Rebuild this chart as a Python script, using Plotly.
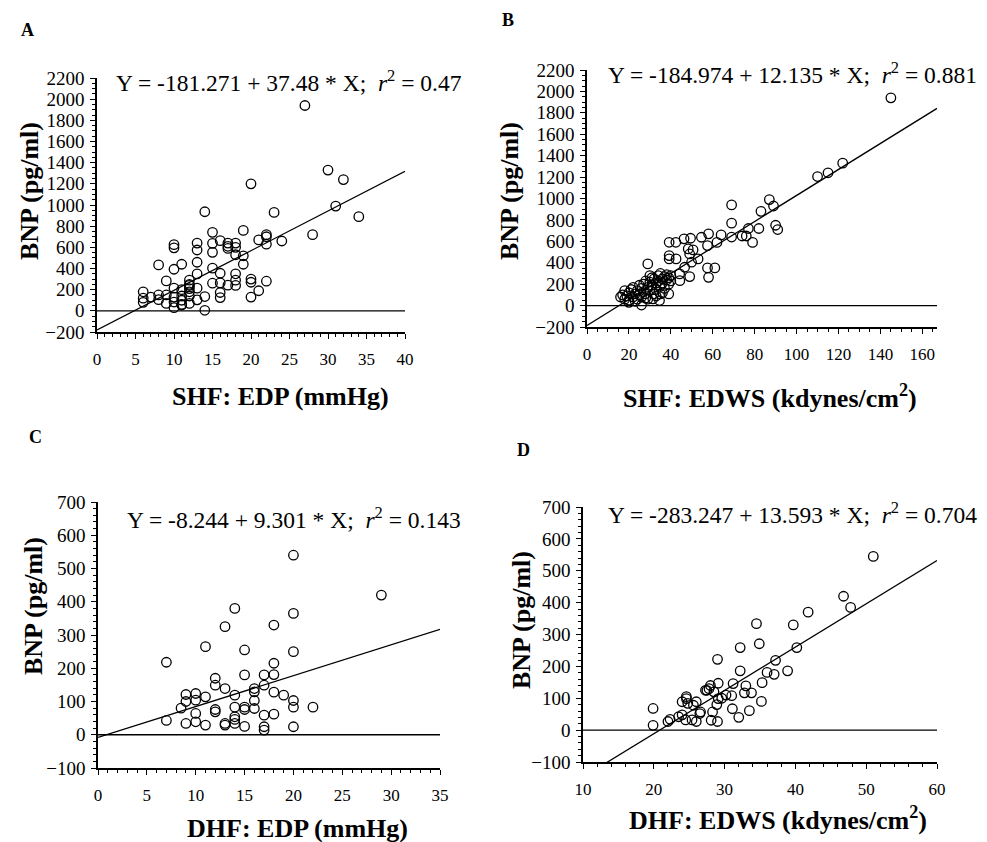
import plotly.graph_objects as go

# ---------------- data ----------------
# Panel A: SHF EDP (mmHg) vs BNP (pg/ml)
a_x = [27, 30, 32, 31, 34, 28, 20, 23, 24, 22, 22, 22, 21, 22, 21, 20, 20, 20,
       19, 19, 19, 18, 18, 18, 18, 18, 17, 17, 17, 16, 16, 16, 16, 16,
       15, 15, 15, 15, 15, 14, 14, 14, 13, 13, 13, 13, 13, 13,
       12, 12, 12, 12, 12, 11, 11, 11, 11, 10, 10, 10, 10, 10, 10,
       9, 9, 9, 8, 8, 8, 7, 6, 6, 6, 10, 11, 12, 11, 12, 17, 18]
a_y = [1940, 1330, 1240, 990, 890, 720, 1200, 930, 660, 720, 630, 700, 670, 280, 190, 130, 300, 270,
       760, 520, 440, 640, 530, 350, 290, 240, 640, 590, 242, 663, 355, 264, 173, 125,
       742, 638, 553, 403, 261, 936, 135, 5, 640, 575, 459, 349, 214, 104,
       290, 250, 210, 140, 70, 440, 200, 140, 55, 625, 595, 393, 214, 83, 30,
       283, 150, 70, 434, 150, 105, 130, 180, 120, 80, 130, 100, 180, 60, 240, 610, 600]

# Panel B: SHF EDWS (kdynes/cm2) vs BNP
b_x = [145, 122, 115, 110, 87, 89, 83, 69, 69, 90, 91, 82, 77, 74, 76, 79, 69, 64, 62,
       58, 57.5, 54.6, 49.4, 46.3, 42.4, 39.2, 48.3, 49, 50.6, 53, 49.9, 42.5, 39.2, 39.2,
       46.6, 44.2, 44.3, 49, 57.5, 61, 58, 29, 39, 35, 31.4, 34.6, 26,
       16, 17, 18, 18, 19, 20, 20, 21, 22, 22, 23, 24, 24, 25, 25, 26, 26, 27, 27,
       28, 28, 29, 29, 30, 30, 31, 31, 32, 32, 33, 33, 34, 34, 35, 35, 36, 36, 37, 37,
       38, 38, 39, 39, 40, 40, 30, 28, 23, 20, 33, 36]
b_y = [1940, 1330, 1240, 1205, 990, 930, 880, 940, 770, 750, 710, 720, 720, 650, 650, 590, 640, 660, 590,
       670, 560, 638, 629, 623, 591, 591, 529, 482, 520, 436, 405, 436, 467, 436,
       358, 296, 233, 271, 352, 352, 264, 389, 109, 109, 62, 47, 5,
       80, 100, 140, 60, 90, 120, 50, 150, 80, 170, 110, 60, 140, 100, 190, 160, 80, 130, 200,
       110, 230, 170, 60, 140, 220, 260, 190, 110, 250, 210, 150, 280, 230, 180, 300, 250, 210, 270, 160,
       240, 290, 260, 200, 280, 230, 280, 70, 40, 30, 90, 120]

# Panel C: DHF EDP (mmHg) vs BNP
c_x = [20, 29, 14, 20, 13, 18, 11, 15, 20, 7, 18, 15, 17, 18, 12, 12, 13, 17, 16, 16,
       14, 18, 19, 20, 20, 22, 9, 10, 10, 11, 8.5, 9, 7, 9, 10, 11, 10, 12, 12,
       13, 13, 14, 14, 14, 15, 15, 15, 16, 16, 17, 17, 17, 18, 20, 14]
c_y = [540, 420, 380, 365, 325, 330, 265, 255, 250, 218, 215, 180, 180, 181, 170, 149, 139, 149, 139, 129,
       119, 128, 119, 103, 83, 83, 121, 124, 104, 114, 80, 100, 43, 34, 39, 29, 64, 76, 69,
       34, 29, 83, 54, 34, 83, 76, 25, 103, 79, 59, 24, 14, 62, 24, 46]

# Panel D: DHF EDWS (kdynes/cm2) vs BNP
d_x = [51, 46.8, 47.8, 41.8, 39.7, 40.2, 34.5, 34.9, 32.2, 29, 32.2, 37.2, 36, 37, 38.9, 35.3,
       31.2, 33, 33.8, 32.8, 31, 29.1, 29.1, 28.9, 28, 27.5, 27.8, 28.5, 35.2, 31.1, 33.5, 32,
       28.3, 28.1, 29, 26.6, 26.5, 26, 26, 24.8, 25.6, 24.6, 24.6, 24, 24, 25.4, 24.5, 23.5,
       22.3, 22, 19.9, 19.9, 29.6, 27.3, 30.2]
d_y = [545, 420, 385, 370, 330, 259, 334, 271, 259, 222, 186, 219, 181, 175, 186, 149,
       146, 139, 117, 117, 108, 147, 99, 80, 140, 125, 130, 120, 90, 67, 61, 40,
       57, 31, 27, 57, 52, 27, 89, 84, 78, 105, 99, 89, 48, 32, 32, 42,
       34, 27, 68, 15, 100, 125, 110]

# regression coefficients (intercept, slope)
coef_a = (-181.271, 37.48)
coef_b = (-184.974, 12.135)
coef_c = (-8.244, 9.301)
coef_d = (-283.247, 13.593)

eq_a = "Y = -181.271 + 37.48 * X;  <i>r</i><sup>2</sup> = 0.47"
eq_b = "Y = -184.974 + 12.135 * X;  <i>r</i><sup>2</sup> = 0.881"
eq_c = "Y = -8.244 + 9.301 * X;  <i>r</i><sup>2</sup> = 0.143"
eq_d = "Y = -283.247 + 13.593 * X;  <i>r</i><sup>2</sup> = 0.704"

xt_a = "SHF: EDP (mmHg)"
xt_b = "SHF: EDWS (kdynes/cm<sup>2</sup>)"
xt_c = "DHF: EDP (mmHg)"
xt_d = "DHF: EDWS (kdynes/cm<sup>2</sup>)"
yt = "BNP (pg/ml)"

# ---------------- layout helpers ----------------
W, H = 987, 842
FONT = "Liberation Serif, Times New Roman, serif"


def fx(px):
    return px / W


def fy(py):
    return 1 - py / H


panels = [
    dict(x=a_x, y=a_y, coef=coef_a, xr=[0, 40], yr=[-200, 2200], dx=5, dy=200,
         box=(97, 405, 78, 332), eq=eq_a, xt=xt_a, letter="A", lpos=(27, 30),
         eqpos=(289, 81), xtpos=(280, 396), ytpos=(30, 191)),
    dict(x=b_x, y=b_y, coef=coef_b, xr=[0, 167], yr=[-200, 2200], dx=20, dy=200,
         box=(587, 937, 70, 327), eq=eq_b, xt=xt_b, letter="B", lpos=(508, 20),
         eqpos=(792, 73), xtpos=(770, 396), ytpos=(510, 191)),
    dict(x=c_x, y=c_y, coef=coef_c, xr=[0, 35], yr=[-100, 700], dx=5, dy=100,
         box=(98, 440, 502, 768), eq=eq_c, xt=xt_c, letter="C", lpos=(35, 437),
         eqpos=(294, 518), xtpos=(297, 828), ytpos=(33, 606)),
    dict(x=d_x, y=d_y, coef=coef_d, xr=[10, 60], yr=[-100, 700], dx=10, dy=100,
         box=(583, 937, 507, 762), eq=eq_d, xt=xt_d, letter="D", lpos=(523, 450),
         eqpos=(792, 513), xtpos=(778, 818), ytpos=(521, 620)),
]

fig = go.Figure()
annotations = []
layout_axes = {}

for i, p in enumerate(panels):
    n = i + 1
    xa = "x" if n == 1 else f"x{n}"
    ya = "y" if n == 1 else f"y{n}"
    l, r, t, b = p["box"]
    x0, x1 = p["xr"]
    b0, b1 = p["coef"]

    fig.add_trace(go.Scatter(x=[x0, x1], y=[0, 0], mode="lines",
                             line=dict(color="black", width=1.3),
                             xaxis=xa, yaxis=ya, showlegend=False, hoverinfo="skip"))
    fig.add_trace(go.Scatter(x=[x0, x1], y=[b0 + b1 * x0, b0 + b1 * x1], mode="lines",
                             line=dict(color="black", width=1.3),
                             xaxis=xa, yaxis=ya, showlegend=False, hoverinfo="skip"))
    fig.add_trace(go.Scatter(x=p["x"], y=p["y"], mode="markers",
                             marker=dict(symbol="circle-open", size=9.5, color="black",
                                         line=dict(width=1.3, color="black")),
                             xaxis=xa, yaxis=ya, showlegend=False, cliponaxis=False))

    ax_common = dict(showgrid=False, zeroline=False, showline=True, linecolor="black",
                     linewidth=1.6, ticks="outside", ticklen=5, tickwidth=1.3, tickcolor="black",
                     automargin=False,
                     minor=dict(ticks="outside", ticklen=3, tickwidth=1, tickcolor="black", nticks=5))
    layout_axes["xaxis" if n == 1 else f"xaxis{n}"] = dict(
        ax_common, domain=[fx(l), fx(r)], range=[x0, x1], anchor=ya, dtick=p["dx"],
        tick0=x0, ticklabelstandoff=6, tickfont=dict(family=FONT, size=17, color="black"))
    layout_axes["yaxis" if n == 1 else f"yaxis{n}"] = dict(
        ax_common, domain=[fy(b), fy(t)], range=p["yr"], anchor=xa, dtick=p["dy"],
        tick0=p["yr"][0], ticklabelstandoff=2, tickfont=dict(family=FONT, size=19, color="black"))

    common = dict(xref="paper", yref="paper", showarrow=False, xanchor="center", yanchor="middle")
    annotations.append(dict(common, text=f"<b>{p['letter']}</b>", x=fx(p["lpos"][0]), y=fy(p["lpos"][1]),
                            font=dict(family=FONT, size=18, color="black")))
    annotations.append(dict(common, text=p["eq"], x=fx(p["eqpos"][0]), y=fy(p["eqpos"][1]),
                            font=dict(family=FONT, size=23.5, color="black")))
    annotations.append(dict(common, text=f"<b>{p['xt']}</b>", x=fx(p["xtpos"][0]), y=fy(p["xtpos"][1]),
                            font=dict(family=FONT, size=26, color="black")))
    annotations.append(dict(common, text=f"<b>{yt}</b>", x=fx(p["ytpos"][0]), y=fy(p["ytpos"][1]),
                            textangle=-90, font=dict(family=FONT, size=26, color="black")))

fig.update_layout(width=W, height=H, margin=dict(l=0, r=0, t=0, b=0, autoexpand=False),
                  paper_bgcolor="white", plot_bgcolor="white",
                  annotations=annotations, **layout_axes)

fig.write_html("out.html", config={"displayModeBar": False},
               post_script="document.body.style.margin='0';")
